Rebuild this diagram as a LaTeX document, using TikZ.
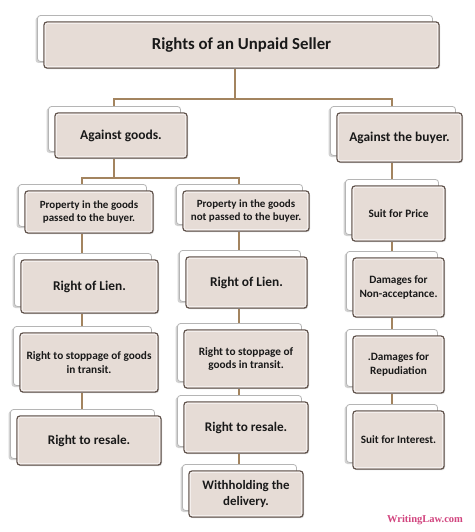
\documentclass[tikz,border=0pt]{standalone}
\usepackage{fontspec}
\setmainfont{Carlito}
\newfontfamily\wlfont{Liberation Serif}
\usetikzlibrary{shadows,backgrounds,calc}
\definecolor{boxfill}{HTML}{E6DCD6}
\definecolor{boxline}{HTML}{5C4E47}
\definecolor{backline}{HTML}{B5B5B5}
\definecolor{conn}{HTML}{A3845F}
\definecolor{wlpink}{HTML}{D2457F}
\tikzset{
  frontbox/.style={draw=boxline, line width=1.3pt, fill=boxfill, rounded corners=3pt,
    inner sep=1pt, align=center, text=black!90,
    drop shadow={shadow xshift=1pt, shadow yshift=-1.2pt, opacity=.35}},
  bevel/.style={draw=white!55!boxfill, line width=1.1pt, rounded corners=2pt},
  backbox/.style={draw=backline, line width=0.8pt, fill=white, rounded corners=3pt,
    inner sep=0pt,
    drop shadow={shadow xshift=-2pt, shadow yshift=-1.5pt, opacity=.35}},
  link/.style={draw=conn, line width=1.5pt}
}
\newcommand\bx[7]{%
  \pgfmathsetmacro\cx{(#2+#4)/2}%
  \pgfmathsetmacro\cy{(#3+#5)/2}%
  \pgfmathsetmacro\bw{#4-#2}%
  \pgfmathsetmacro\bh{#5-#3}%
  \pgfmathsetmacro\bs{#6*1.2}%
  \node[backbox, minimum width=\bw pt, minimum height=\bh pt] (#1b) at (\cx-6.5,\cy-6.5) {};
  \node[frontbox, minimum width=\bw pt, minimum height=\bh pt,
        font=\fontsize{#6}{\bs}\selectfont\bfseries] (#1) at (\cx,\cy) {#7};
  \draw[bevel] ($(#1.north west)+(1.9,1.9)$) rectangle ($(#1.south east)+(-1.9,-1.9)$);
}
\begin{document}
\begin{tikzpicture}[x=1pt,y=-1pt]
\useasboundingbox (0,0) rectangle (474,532);
% boxes
\bx{title}{44}{22}{439}{68}{16.8}{Rights of an Unpaid Seller}
\bx{ag}{55}{113}{187}{158}{13.5}{Against goods.}
\bx{ab}{337}{113}{462}{162}{13.4}{Against the buyer.}
\bx{pa}{25}{191}{153}{233}{11}{Property in the goods\\passed to the buyer.}
\bx{pb}{183}{191}{309}{231}{11}{Property in the goods\\not passed to the buyer.}
\bx{sp}{352}{186}{445}{241}{11.3}{Suit for Price}
\bx{la}{21}{260}{158}{313}{13.4}{Right of Lien.}
\bx{lb}{186}{257}{307}{308}{13.4}{Right of Lien.}
\bx{dn}{353}{258}{444}{317}{11.2}{Damages for\\Non-acceptance.}
\bx{sa}{20}{333}{158}{392}{11.3}{Right to stoppage of goods\\in transit.}
\bx{sb}{184}{330}{308}{388}{11.3}{Right to stoppage of\\goods in transit.}
\bx{dr}{353}{336}{444}{393}{11.2}{.Damages for\\Repudiation}
\bx{ra}{17}{416}{161}{465}{13.2}{Right to resale.}
\bx{rb}{184}{402}{308}{453}{13.2}{Right to resale.}
\bx{si}{353}{411}{444}{469}{11.2}{Suit for Interest.}
\bx{wd}{189}{471}{303}{517}{12.9}{Withholding the\\delivery.}
% junctions
\coordinate (j0) at (235,99);
\coordinate (jg) at (114,99);
\coordinate (jb) at (392,99);
\coordinate (k0) at (114,178);
\coordinate (ka) at (82,178);
\coordinate (kb) at (239,178);
\coordinate (ca) at (82,0);
\coordinate (cb) at (239,0);
\coordinate (cr) at (392,0);
\node[font=\wlfont\bfseries\fontsize{10.5}{12}\selectfont, text=wlpink, inner sep=0pt] (wl) at (425,520) {WritingLaw.com};
\begin{scope}[on background layer]
\fill[white] (0,0) rectangle (474,532);
\draw[link] (j0 |- title.south) -- (j0);
\draw[link] (agb.north -| jg) |- (j0) -| (abb.north -| jb);
\draw[link] (ag.south -| k0) -- (k0);
\draw[link] (pab.north -| ka) |- (k0) -| (pbb.north -| kb);
% column a
\draw[link] (pa.south -| ca) -- (lab.north -| ca);
\draw[link] (la.south -| ca) -- (sab.north -| ca);
\draw[link] (sa.south -| ca) -- (rab.north -| ca);
% column b
\draw[link] (pb.south -| cb) -- (lbb.north -| cb);
\draw[link] (lb.south -| cb) -- (sbb.north -| cb);
\draw[link] (sb.south -| cb) -- (rbb.north -| cb);
\draw[link] (rb.south -| cb) -- (wdb.north -| cb);
% right column
\draw[link] (ab.south -| cr) -- (spb.north -| cr);
\draw[link] (sp.south -| cr) -- (dnb.north -| cr);
\draw[link] (dn.south -| cr) -- (drb.north -| cr);
\draw[link] (dr.south -| cr) -- (sib.north -| cr);
\end{scope}
\end{tikzpicture}
\end{document}
